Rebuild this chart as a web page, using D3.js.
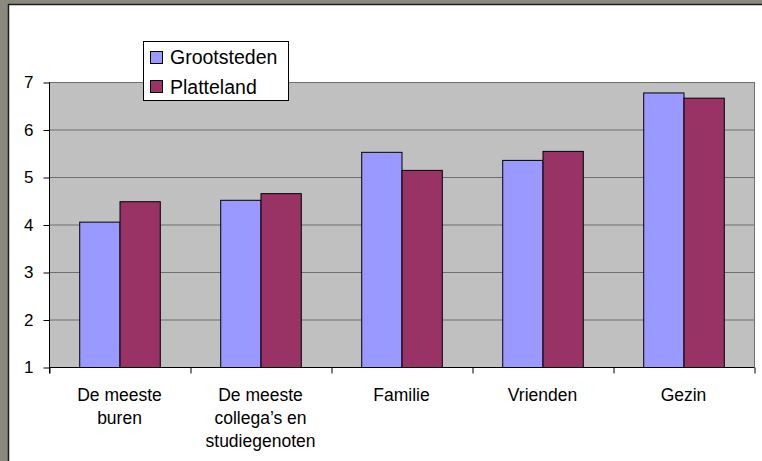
<!DOCTYPE html>
<html>
<head>
<meta charset="utf-8">
<script src="https://cdn.jsdelivr.net/npm/d3@7"></script>
<style>
  body { margin: 0; background: #fff; }
  svg { display: block; font-family: "Liberation Sans", Arial, sans-serif; }
</style>
</head>
<body>
<svg width="762" height="461"></svg>
<script>
const categories = ["De meeste buren", "De meeste collega’s en studiegenoten", "Familie", "Vrienden", "Gezin"];
const categoryLines = [["De meeste", "buren"], ["De meeste", "collega’s en", "studiegenoten"], ["Familie"], ["Vrienden"], ["Gezin"]];
const seriesNames = ["Grootsteden", "Platteland"];
const grootsteden = [4.06, 4.52, 5.53, 5.36, 6.78];
const platteland = [4.49, 4.66, 5.15, 5.55, 6.67];
const yTicks = [1, 2, 3, 4, 5, 6, 7];

const colors = { "Grootsteden": "#9999ff", "Platteland": "#993366" };

const svg = d3.select("svg");
const attr_area = { left: 49, top: 82, right: 754, bottom: 367 };

// outer frame
svg.append("rect").attr("width", 762).attr("height", 461).attr("fill", "#8b887e");
svg.append("rect")
    .attr("x", 8.5).attr("y", 4.5).attr("width", 760).attr("height", 460)
    .attr("fill", "#fff").attr("stroke", "#1c1c1c").attr("stroke-width", 1.5);

const scaleX = d3.scaleBand()
    .domain(categories)
    .range([attr_area.left, attr_area.right]);
const scaleSeries = d3.scaleBand()
    .domain(seriesNames)
    .range([0, scaleX.bandwidth()])
    .paddingOuter(0.75);
const scaleY = d3.scaleLinear()
    .domain([1, 7])
    .range([attr_area.bottom, attr_area.top]);

// plot background
svg.append("rect")
    .attr("x", attr_area.left).attr("y", attr_area.top)
    .attr("width", attr_area.right - attr_area.left)
    .attr("height", attr_area.bottom - attr_area.top)
    .attr("fill", "#c0c0c0");

// gridlines
svg.selectAll(".grid")
    .data(yTicks.slice(1))
    .enter()
    .append("line")
    .attr("class", "grid")
    .attr("x1", attr_area.left).attr("x2", attr_area.right)
    .attr("y1", d => scaleY(d) + 0.5).attr("y2", d => scaleY(d) + 0.5)
    .attr("stroke", "#6f6f6f").attr("stroke-width", 1);

// right border
svg.append("line")
    .attr("x1", attr_area.right + 0.5).attr("x2", attr_area.right + 0.5)
    .attr("y1", attr_area.top).attr("y2", attr_area.bottom)
    .attr("stroke", "#6f6f6f");

// bars
const bars = [];
categories.forEach((c, i) => {
    bars.push({ cat: c, series: "Grootsteden", value: grootsteden[i] });
    bars.push({ cat: c, series: "Platteland", value: platteland[i] });
});

svg.selectAll(".bar")
    .data(bars)
    .enter()
    .append("rect")
    .attr("class", "bar")
    .attr("x", d => scaleX(d.cat) + scaleSeries(d.series) + 0.5)
    .attr("y", d => scaleY(d.value) + 0.5)
    .attr("width", scaleSeries.bandwidth())
    .attr("height", d => attr_area.bottom - scaleY(d.value))
    .attr("fill", d => colors[d.series])
    .attr("stroke", "#000")
    .attr("stroke-width", 1);

// y axis
const axisY = d3.axisLeft(scaleY).tickValues(yTicks).tickFormat(d3.format("d")).tickSize(6).tickPadding(10);
const gy = svg.append("g")
    .attr("transform", `translate(${attr_area.left + 0.5}, 0.5)`)
    .call(axisY);
gy.select(".domain").attr("stroke", "#000").attr("d", `M-0,${attr_area.top}V${attr_area.bottom + 6}`);
gy.selectAll(".tick line").attr("stroke", "#000");
gy.selectAll(".tick text")
    .attr("font-size", 17)
    .attr("fill", "#000")
    .attr("font-family", "Liberation Sans, Arial, sans-serif");

// x axis: ticks at category boundaries
const scaleB = d3.scaleLinear().domain([0, categories.length]).range([attr_area.left, attr_area.right]);
const axisX = d3.axisBottom(scaleB).ticks(categories.length).tickSize(6).tickFormat("");
const gx = svg.append("g")
    .attr("transform", `translate(0.5, ${attr_area.bottom + 0.5})`)
    .call(axisX);
gx.select(".domain").attr("stroke", "#000").attr("d", `M${attr_area.left},0H${attr_area.right}`);
gx.selectAll(".tick line").attr("stroke", "#000");

// category labels
const labels = svg.selectAll(".xlabel")
    .data(categories)
    .enter()
    .append("text")
    .attr("class", "xlabel")
    .attr("text-anchor", "middle")
    .attr("font-size", 17.5)
    .attr("fill", "#000")
    .attr("transform", d => `translate(${scaleX(d) + scaleX.bandwidth() / 2}, 401)`);
labels.each(function(d, i) {
    d3.select(this).selectAll("tspan")
        .data(categoryLines[i])
        .enter()
        .append("tspan")
        .attr("x", 0)
        .attr("y", (t, j) => j * 23)
        .text(t => t);
});

// legend
const legend = svg.append("g").attr("transform", "translate(143, 41)");
legend.append("rect")
    .attr("x", 0.5).attr("y", 0.5).attr("width", 145).attr("height", 59)
    .attr("fill", "#fff").attr("stroke", "#000");
seriesNames.forEach((s, i) => {
    legend.append("rect")
        .attr("x", 7.5).attr("y", 10.5 + i * 29).attr("width", 12).attr("height", 12)
        .attr("fill", colors[s]).attr("stroke", "#000");
    legend.append("text")
        .attr("x", 27).attr("y", 23 + i * 29.5)
        .attr("font-size", 19.5)
        .attr("fill", "#000")
        .text(s);
});
</script>
</body>
</html>
